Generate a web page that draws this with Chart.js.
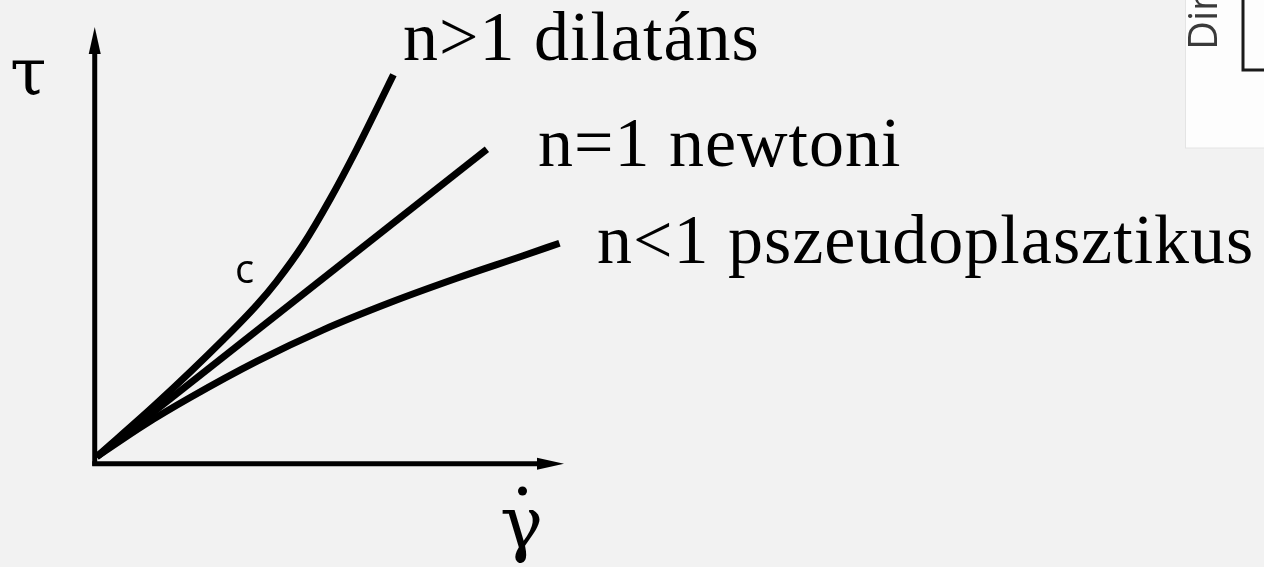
<!DOCTYPE html>
<html>
<head>
<meta charset="utf-8">
<style>
  html, body { margin: 0; padding: 0; background: #f2f2f2; }
  #flow { display: block; }
</style>
<script src="https://cdn.jsdelivr.net/npm/chart.js@4"></script>
</head>
<body>
<canvas id="flow" width="1264" height="567"></canvas>
<script>
// shear rate (gamma dot) and shear stress (tau), arbitrary units
const dilatantRate   = [0, 1.29, 2.72, 3.44, 3.87, 4.44, 5.02, 5.59, 6.38];
const dilatantStress = [0, 1.23, 2.70, 3.50, 4.05, 4.90, 5.95, 7.10, 8.82];

const newtonRate   = [0, 8.39];
const newtonStress = [0, 7.10];

const pseudoRate   = [0, 1.00, 2.00, 3.44, 4.87, 6.31, 7.74, 9.17, 9.95];
const pseudoStress = [0, 0.72, 1.36, 2.20, 2.93, 3.56, 4.12, 4.64, 4.93];

const curveLabels = ['n>1 dilatáns', 'n=1 newtoni', 'n<1 pszeudoplasztikus'];

const toPoints = (xs, ys) => xs.map((x, i) => ({ x: x, y: ys[i] }));

function curve(label, xs, ys) {
  return {
    label: label,
    data: toPoints(xs, ys),
    showLine: true,
    borderColor: '#000',
    borderWidth: 7,
    borderCapStyle: 'butt',
    borderJoinStyle: 'round',
    cubicInterpolationMode: 'monotone',
    pointRadius: 0,
    fill: false
  };
}

// axes with arrow heads, the curve labels and the symbols
const sketch = {
  id: 'sketch',
  beforeDatasetsDraw(chart) {
    const ctx = chart.ctx;
    const x0 = chart.scales.x.getPixelForValue(0);
    const y0 = chart.scales.y.getPixelForValue(0);
    ctx.save();
    ctx.fillStyle = '#000';
    ctx.strokeStyle = '#000';
    ctx.lineWidth = 5;
    // vertical axis
    const ax = x0 - 2;
    ctx.beginPath();
    ctx.moveTo(ax, y0 + 9);
    ctx.lineTo(ax, 52);
    ctx.stroke();
    ctx.beginPath();
    ctx.moveTo(ax, 27);
    ctx.lineTo(ax - 6, 54);
    ctx.lineTo(ax + 6, 54);
    ctx.closePath();
    ctx.fill();
    // horizontal axis
    const ay = y0 + 7;
    ctx.beginPath();
    ctx.moveTo(ax - 2.5, ay);
    ctx.lineTo(540, ay);
    ctx.stroke();
    ctx.beginPath();
    ctx.moveTo(564, ay);
    ctx.lineTo(537, ay - 6);
    ctx.lineTo(537, ay + 6);
    ctx.closePath();
    ctx.fill();
    ctx.restore();
  },
  afterDraw(chart) {
    const ctx = chart.ctx;
    ctx.save();
    ctx.fillStyle = '#000';
    ctx.textBaseline = 'alphabetic';
    ctx.textAlign = 'left';
    ctx.font = '70px "Liberation Serif", serif';
    ctx.letterSpacing = '1px';
    ctx.fillText(curveLabels[0], 403, 60);
    ctx.fillText(curveLabels[1], 538, 166);
    ctx.fillText(curveLabels[2], 597, 263);
    ctx.letterSpacing = '0px';

    // tau and gamma
    ctx.font = '66px "DejaVu Serif", serif';
    ctx.fillText('τ', 10, 95);
    ctx.font = '72px "DejaVu Serif", serif';
    ctx.fillText('γ', 500, 548);
    ctx.beginPath();
    ctx.arc(522.5, 491, 4.5, 0, Math.PI * 2);
    ctx.fill();

    ctx.font = '40px "Open Sans", sans-serif';
    ctx.fillText('c', 235, 283);

    // clipped panel in the corner
    ctx.fillStyle = '#fdfdfd';
    ctx.fillRect(1185, 0, 79, 148);
    ctx.strokeStyle = '#e4e4e4';
    ctx.lineWidth = 1;
    ctx.strokeRect(1185.5, -1, 80, 149);
    ctx.strokeStyle = '#1a1a1a';
    ctx.lineWidth = 3;
    ctx.beginPath();
    ctx.moveTo(1243, 0);
    ctx.lineTo(1243, 70);
    ctx.lineTo(1264, 70);
    ctx.stroke();
    ctx.translate(1217, 50);
    ctx.rotate(-Math.PI / 2);
    ctx.fillStyle = '#3a3a3a';
    ctx.font = '40px "Open Sans", sans-serif';
    ctx.fillText('Din', 0, 0);
    ctx.restore();
  }
};

new Chart(document.getElementById('flow').getContext('2d'), {
  type: 'scatter',
  data: {
    datasets: [
      curve(curveLabels[0], dilatantRate, dilatantStress),
      curve(curveLabels[1], newtonRate, newtonStress),
      curve(curveLabels[2], pseudoRate, pseudoStress)
    ]
  },
  options: {
    responsive: false,
    animation: false,
    devicePixelRatio: 1,
    layout: { padding: 0 },
    plugins: { legend: { display: false }, tooltip: { enabled: false } },
    scales: {
      x: { type: 'linear', display: false, min: -2.08, max: 25.10 },
      y: { type: 'linear', display: false, min: -2.547, max: 10.547 }
    }
  },
  plugins: [sketch]
});
</script>
</body>
</html>
